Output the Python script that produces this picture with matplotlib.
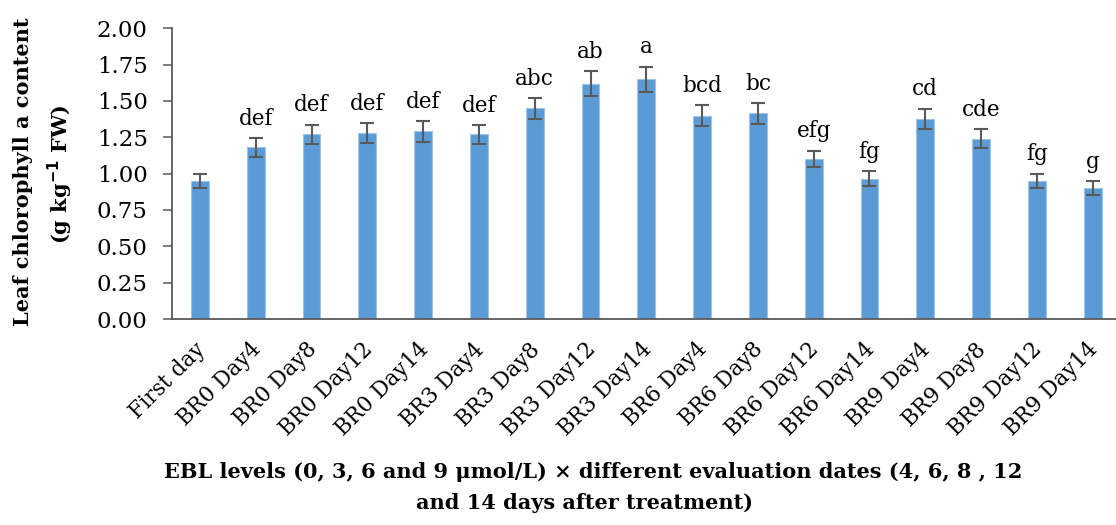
import matplotlib
matplotlib.use("Agg")
import matplotlib.pyplot as plt
from matplotlib.transforms import ScaledTranslation

categories = ["First day", "BR0 Day4", "BR0 Day8", "BR0 Day12", "BR0 Day14",
              "BR3 Day4", "BR3 Day8", "BR3 Day12", "BR3 Day14",
              "BR6 Day4", "BR6 Day8", "BR6 Day12", "BR6 Day14",
              "BR9 Day4", "BR9 Day8", "BR9 Day12", "BR9 Day14"]
chl_a = [0.95, 1.18, 1.27, 1.28, 1.29, 1.27, 1.45, 1.62, 1.65,
         1.40, 1.415, 1.10, 0.965, 1.375, 1.24, 0.95, 0.90]
sem = [0.05, 0.065, 0.067, 0.067, 0.069, 0.064, 0.071, 0.083, 0.085,
       0.069, 0.071, 0.057, 0.053, 0.071, 0.066, 0.051, 0.048]
letters = ["", "def", "def", "def", "def", "def", "abc", "ab", "a",
           "bcd", "bc", "efg", "fg", "cd", "cde", "fg", "g"]
yticks = [0.00, 0.25, 0.50, 0.75, 1.00, 1.25, 1.50, 1.75, 2.00]

plt.rcParams["font.family"] = ["DejaVu Serif"]
W, H = 1116, 525
fig = plt.figure(figsize=(W / 100, H / 100), dpi=100)
ax = fig.add_axes([172 / W, (H - 319) / H, (W - 172) / W, (319 - 28.3) / H])

x = list(range(len(categories)))
ax.bar(x, chl_a, width=0.32, color="#5B9BD5", edgecolor="#9DC3E6",
       linewidth=0.8, zorder=2)
ax.errorbar(x, chl_a, yerr=sem, fmt="none", ecolor="#595959",
            elinewidth=1.5, capsize=4.7, capthick=1.5, zorder=3)

for xi, v, e, lab in zip(x, chl_a, sem, letters):
    if lab:
        ax.annotate(lab, (xi, v + e), xytext=(0, 6), textcoords="offset points",
                    ha="center", va="bottom", fontsize=15.5)

ax.set_xlim(-0.5, (W - 172) / 55.8 - 0.5)
ax.set_ylim(0, 2.0)
ax.set_yticks(yticks)
ax.set_yticklabels([f"{t:.2f}" for t in yticks], fontsize=16.5)
ax.set_xticks(x)
ax.set_xticklabels(categories, rotation=45, ha="right",
                   rotation_mode="anchor", fontsize=15.5)
ax.tick_params(axis="x", length=0, pad=14)
ax.tick_params(axis="y", length=6.5, width=1.1, color="#595959", pad=11)

# nudge the slanted category labels slightly left so they end under their bar
shift = ScaledTranslation(-6 / 100, 0, fig.dpi_scale_trans)
for lbl in ax.get_xticklabels():
    lbl.set_transform(lbl.get_transform() + shift)

for side in ("top", "right"):
    ax.spines[side].set_visible(False)
for side in ("left", "bottom"):
    ax.spines[side].set_color("#595959")
    ax.spines[side].set_linewidth(1.3)

fig.text(23 / W, 1 - 172 / H, "Leaf chlorophyll a content", rotation=90,
         ha="center", va="center", fontsize=15, fontweight="bold")
fig.text(60 / W, 1 - 174 / H, "(g kg$^{\\mathbf{-1}}$ FW)", rotation=90,
         ha="center", va="center", fontsize=15, fontweight="bold")

fig.text(593 / W, 1 - 472 / H,
         "EBL levels (0, 3, 6 and 9 μmol/L) × different evaluation dates (4, 6, 8 , 12",
         ha="center", va="center", fontsize=15, fontweight="bold")
fig.text(584 / W, 1 - 503 / H, "and 14 days after treatment)",
         ha="center", va="center", fontsize=15, fontweight="bold")

fig.savefig("out.png", dpi=100)
